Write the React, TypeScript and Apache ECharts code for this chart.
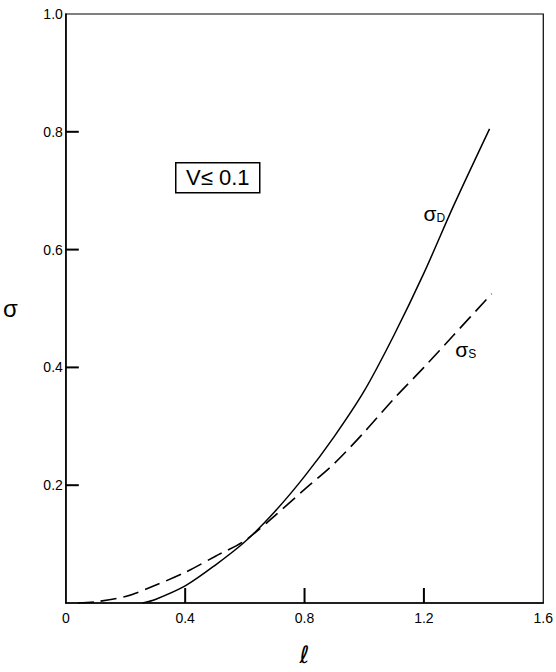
import React, { useEffect, useRef } from "react";
import * as echarts from "echarts";

// σ_D (solid) : ℓ vs σ
const ellD = [0.257, 0.3, 0.4, 0.5, 0.6, 0.7, 0.8, 0.9, 1.0, 1.1, 1.2, 1.3, 1.42];
const sigmaD = [0, 0.006, 0.029, 0.064, 0.104, 0.155, 0.215, 0.283, 0.36, 0.455, 0.56, 0.675, 0.805];

// σ_S (dashed)
const ellS = [0.04, 0.1, 0.2, 0.3, 0.4, 0.5, 0.6, 0.7, 0.8, 0.9, 1.0, 1.1, 1.2, 1.3, 1.427];
const sigmaS = [0, 0.002, 0.011, 0.03, 0.052, 0.079, 0.106, 0.148, 0.193, 0.237, 0.29, 0.347, 0.4, 0.455, 0.525];

const xTicks = [0, 0.4, 0.8, 1.2, 1.6];
const yTicks = [0, 0.2, 0.4, 0.6, 0.8, 1.0];

const labelD: [number, number] = [1.235, 0.662];
const labelS: [number, number] = [1.34, 0.43];

const FONT = "'Liberation Sans', 'DejaVu Sans', sans-serif";

export default function App() {
  const ref = useRef<HTMLDivElement>(null);
  useEffect(() => {
    if (!ref.current) return;
    const chart = echarts.init(ref.current, undefined, { renderer: "svg" });
    const pairs = (xs: number[], ys: number[]) => xs.map((x, i) => [x, ys[i]]);
    chart.setOption({
      animation: false,
      backgroundColor: "#fff",
      grid: {
        left: 63,
        top: 14,
        right: 8,
        bottom: 53,
        show: true,
        borderColor: "#000",
        borderWidth: 1.2,
      },
      xAxis: {
        type: "value",
        min: 0,
        max: 1.6,
        interval: 0.4,
        name: "ℓ",
        nameLocation: "middle",
        nameGap: 40,
        nameTextStyle: { fontSize: 24, fontFamily: "'DejaVu Sans', sans-serif", color: "#000" },
        axisLine: { show: true, onZero: false, lineStyle: { color: "#000", width: 1.5 } },
        axisTick: { show: false },
        axisLabel: {
          color: "#000",
          fontSize: 14,
          fontFamily: FONT,
          margin: 8,
          formatter: (v: number) => (xTicks.includes(Math.round(v * 10) / 10) ? (v === 0 ? "0" : v.toFixed(1)) : ""),
        },
        splitLine: { show: false },
      },
      yAxis: {
        type: "value",
        min: 0,
        max: 1.0,
        interval: 0.2,
        name: "σ",
        nameLocation: "middle",
        nameGap: 48,
        nameRotate: 0,
        nameTextStyle: { fontSize: 24, fontFamily: FONT, color: "#000" },
        axisLine: { show: true, onZero: false, lineStyle: { color: "#000", width: 1.5 } },
        axisTick: { show: false },
        axisLabel: {
          color: "#000",
          fontSize: 14,
          fontFamily: FONT,
          margin: 3,
          formatter: (v: number) => (v === 0 || !yTicks.includes(Math.round(v * 10) / 10) ? "" : v.toFixed(1)),
        },
        splitLine: { show: false },
      },
      series: [
        {
          name: "σD",
          type: "line",
          data: pairs(ellD, sigmaD),
          showSymbol: false,
          smooth: 0.3,
          lineStyle: { color: "#000", width: 1.5, type: "solid" },
        },
        {
          name: "σS",
          type: "line",
          data: pairs(ellS, sigmaS),
          showSymbol: false,
          smooth: 0.3,
          lineStyle: { color: "#000", width: 1.6, type: [16, 7] },
        },
      ],
    });

    const rich = {
      s: { fontSize: 21, fontFamily: FONT, fill: "#000", color: "#000" },
      d: { fontSize: 12, fontFamily: FONT, fill: "#000", color: "#000", padding: [9, 0, 0, 0] },
    };
    const px = (coord: [number, number]) => chart.convertToPixel({ gridIndex: 0 }, coord) as number[];
    const seriesLabel = (coord: [number, number], sub: string) => {
      const p = px(coord);
      return {
        type: "text",
        x: p[0],
        y: p[1],
        silent: true,
        style: {
          text: `{s|σ}{d|${sub}}`,
          rich,
          align: "center",
          verticalAlign: "middle",
          fill: "#000",
        },
      };
    };
    // inward tick marks placed with the axis scale
    const tickMarks: any[] = [];
    xTicks.slice(1, -1).forEach((t) => {
      const p = px([t, 0]);
      tickMarks.push({
        type: "rect",
        silent: true,
        z: 10,
        shape: { x: p[0] - 1, y: p[1] - 15, width: 2, height: 15 },
        style: { fill: "#000" },
      });
    });
    yTicks.slice(1, -1).forEach((t) => {
      const p = px([0, t]);
      tickMarks.push({
        type: "rect",
        silent: true,
        z: 10,
        shape: { x: p[0], y: p[1] - 1, width: 13, height: 2 },
        style: { fill: "#000" },
      });
    });

    chart.setOption({
      graphic: [
        {
          type: "group",
          left: 175,
          top: 162,
          children: [
            {
              type: "rect",
              shape: { x: 0, y: 0, width: 84, height: 30 },
              style: { fill: "#fff", stroke: "#000", lineWidth: 1.5 },
            },
            {
              type: "text",
              x: 42,
              y: 15,
              style: {
                text: "V≤ 0.1",
                font: `22px ${FONT}`,
                fill: "#000",
                align: "center",
                verticalAlign: "middle",
              },
            },
          ],
        },
        seriesLabel(labelD, "D"),
        seriesLabel(labelS, "S"),
        ...tickMarks,
      ],
    });
    return () => chart.dispose();
  }, []);
  return (
    <div
      ref={ref}
      style={{ position: "fixed", left: 0, top: 0, width: 556, height: 672, background: "#fff" }}
    />
  );
}
